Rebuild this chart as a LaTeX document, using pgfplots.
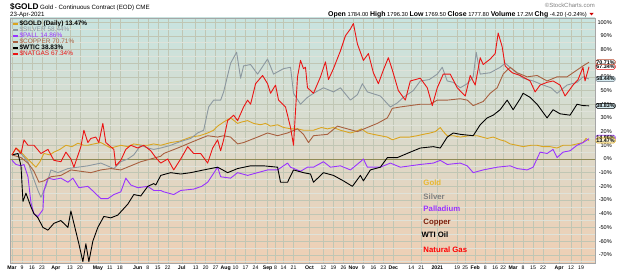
\documentclass[border=0pt]{standalone}
\usepackage{pgfplots}
\pgfplotsset{compat=1.18}
\usepackage{fontspec}
\setmainfont{Liberation Sans}
\definecolor{cgold}{RGB}{218,165,32}
\definecolor{csilver}{RGB}{140,152,160}
\definecolor{cpall}{RGB}{153,51,255}
\definecolor{ccopper}{RGB}{168,96,64}
\definecolor{cgas}{RGB}{235,20,20}
\definecolor{lgold}{RGB}{232,184,48}
\definecolor{lcopper}{RGB}{123,30,10}
\definecolor{bgtop}{RGB}{200,228,224}
\definecolor{bgmid}{RGB}{245,234,176}
\definecolor{bgbot}{RGB}{239,207,180}
\definecolor{gridc}{RGB}{192,198,180}
\definecolor{tagblue}{RGB}{214,236,242}
\definecolor{tagyel}{RGB}{252,246,210}
\begin{document}
\begin{tikzpicture}[x=1bp,y=1bp]
\begin{axis}[
  scale only axis,
  width=585bp, height=245bp,
  xmin=-1, xmax=292, ymin=-76, ymax=103,
  axis background/.style={top color=bgtop, middle color=bgmid, bottom color=bgbot},
  axis line style={draw=gray!70, line width=0.5pt},
  xtick={0,5,10,15,22,29,34,43,49,54,63,68,73,78,85,92,97,102,107,112,117,122,128,132,136,141,149,156,161,166,171,176,181,186,191,200,205,213,223,227,232,237,242,246,251,256,261,266,274,280,285},
  xticklabels={\textbf{Mar},9,16,23,\textbf{Apr},13,20,\textbf{May},11,18,\textbf{Jun},8,15,22,\textbf{Jul},13,20,27,\textbf{Aug},10,17,24,\textbf{Sep},8,14,21,\textbf{Oct},12,19,26,\textbf{Nov},9,16,23,\textbf{Dec},14,21,\textbf{2021},19,25,\textbf{Feb},8,16,22,\textbf{Mar},8,15,22,\textbf{Apr},12,19},
  xticklabel style={font=\fontsize{5.2}{6}\selectfont, inner sep=0pt, yshift=-2.5bp},
  ytick={-70,-60,...,100},
  minor ytick={-75,-65,...,95},
  yticklabel pos=right,
  yticklabel={\pgfmathprintnumber{\tick}\%},
  yticklabel style={font=\fontsize{5.6}{6}\selectfont, anchor=east, inner sep=0pt, xshift=17bp},
  /pgf/number format/assume math mode=true,
  major tick length=0pt, minor tick length=0pt,
  xmajorgrids, ymajorgrids, yminorgrids,
  major grid style={draw=gridc, line width=0.4pt},
  minor grid style={draw=gridc!50, line width=0.3pt},
  clip mode=individual,
  legend style={at={(0.003,0.993)}, anchor=north west, draw=none, fill=none, inner sep=0.5bp,
    font=\fontsize{6.5}{6.5}\selectfont, nodes={inner sep=0.3bp}, row sep=-0.8bp},
  legend cell align=left,
  legend image code/.code={\draw[#1, line width=1.8bp] (0bp,0bp) -- (5bp,0bp);},
  every axis plot/.append style={line width=0.9pt, line join=round},
]
\path ([shift={(-10bp,-13bp)}]rel axis cs:0,0) rectangle ([shift={(614bp,263bp)}]rel axis cs:0,0);
\draw[draw=gray!60!olive, line width=0.7pt] (axis cs:-1,0) -- (axis cs:292,0);
% Gold
\addplot[cgold] coordinates {(0,3)(2,8)(4,6)(7,1)(10,-3)(12,-6)(14,-2)(16,4)(19,3)(21,5)(24,7)(27,10)(30,9)(33,11.5)(36,10)(38,10)(41,11)(44.5,12)(47,10)(49.5,8)(52,9)(54.5,10)(58,9)(61,11)(65,10)(68,10)(71,11)(74.5,10)(79.5,12)(84,13)(89.5,16)(94,17)(98,19)(101,21)(103,24)(106,27)(109.5,30)(113,26)(115,27)(118,28)(121,26)(124.5,25)(127,26)(129.5,24)(133,25)(136,23)(140,22)(143,22)(146,21)(149.5,21)(151,21)(155,23)(158,22)(161,23)(164.5,21)(169.5,19)(172,20)(175,22)(178,19)(181,18)(184.5,17)(188,16)(190.5,14)(194.5,16)(199,16)(203,17)(206,18)(209.5,19)(212,20)(214.5,23)(216,20)(218,17)(221,17)(224.5,16)(229,17)(233,17)(238,15)(241,16)(244.5,14)(247,13)(249.5,11)(253,10)(256,9)(260,10)(263,10)(266,9)(269.5,9)(273,8)(276,10)(280,10)(283,11)(286,12)(287.5,15)(289,13.47)};
\addlegendentry{\textbf{\$GOLD (Daily) 13.47\%}}
% Silver
\addplot[csilver] coordinates {(0,3)(4.5,4)(8,-2)(10.5,-13)(13,-23)(14.5,-28)(17,-20)(19.5,-8)(23,-10)(28,-7)(33,-6)(38,-5)(44.5,-3)(51,-7)(54.5,-2)(58,0)(61,3)(64.5,10)(68,8)(71,7)(74.5,8)(79.5,10)(83,12)(85,13)(89.5,15)(93,19)(96,21)(98.5,38)(101,43)(104.5,43)(106,49)(109.5,70)(112.5,78)(114.5,59)(116,68)(119.5,69)(123,62)(128,73)(131,62)(136,66)(139.5,67)(141,48)(144.5,40)(148,45)(151,48)(156,52)(161,49)(164.5,52)(169.5,43)(173,47)(175.5,55)(178,49)(184.5,46)(189.5,38)(193,41)(196,45)(201,50)(204.5,57)(209,58)(213,62)(215.5,67)(218,57)(221,56)(224.5,52)(228,55)(231,60)(232.5,78)(234.5,62)(239.5,63)(244.5,67)(247,70)(251,65)(256,59)(261,57)(266,54)(270,52)(273,48)(278,54)(283,56)(286,60)(289,58.44)};
\addlegendentry{\textcolor{csilver}{\$SILVER 58.44\%}}
% Palladium
\addplot[cpall] coordinates {(0,-1)(2,-4)(4.5,-5)(6,-4)(8,-13)(9.5,-32)(11,-40)(13,-42)(15.5,-37)(16,-23)(18,-14)(21,-15)(24.5,-14)(28,-17)(30.5,-14)(33.5,-21)(38,-20)(41,-24)(44.5,-29)(48,-29)(51,-26)(54.5,-24)(57,-14)(59.5,-19)(63,-21)(68,-20)(71,-23)(74.5,-23)(76,-24)(81,-26)(84.5,-23)(91,-22)(95,-20)(98,-17)(103,-6)(104.5,-13)(109.5,-14)(113,-10)(118,-12)(123,-10)(128,-8)(133,-8)(138,-3)(139.5,-6)(144.5,-9)(148,-6)(151,-6)(156,-2)(159.5,-6)(164.5,-5)(169.5,-8)(174.5,-2)(176,0)(178,-6)(184.5,-6)(189.5,-3)(194.5,-6)(199.5,-5)(204.5,-4)(211,-3)(214.5,-1)(218,-4)(224.5,-3)(228,-5)(231,-10)(236,-8)(243,-6)(249.5,-5)(253,-7)(258,-8)(261,-6)(264.5,5)(268,4)(271,7)(273,1)(276,5)(279.5,6)(283,10)(286,12)(289,14.86)};
\addlegendentry{\textcolor{cpall}{\$PALL 14.86\%}}
% Copper
\addplot[ccopper] coordinates {(0,3)(4.5,1)(8,-3)(11,-9)(13.5,-17)(16,-16)(19.5,-13)(24.5,-12)(29.5,-8)(34.5,-9)(39.5,-10)(44.5,-8)(49.5,-7)(54.5,-8)(59.5,-5)(64.5,-2)(69.5,0)(74.5,2)(76,4)(83,8)(89.5,12)(94.5,15)(98,17)(103,16)(106,17)(109.5,16)(113,11)(116,12)(119.5,14)(123,16)(128,19)(133,17)(138,19)(143,22)(146,18)(148.5,12)(149.5,14)(151,17)(158,18)(163,24)(168,22)(173,20)(178,23)(183,26)(188,30)(190.5,37)(194.5,38)(199.5,39)(204.5,40)(209.5,40)(213,43)(218,43)(224.5,44)(228,43)(231,39)(236,42)(239.5,48)(243,52)(246,62)(249.5,67)(253,63)(258,60)(263,61)(268,57)(273,60)(278,60)(283,65)(286,68)(289,70.71)};
\addlegendentry{\textcolor{ccopper}{\$COPPER 70.71\%}}
% WTI
\addplot[black] coordinates {(0,3)(3,4)(4.5,-5)(5.5,-31)(7,-25)(9.5,-35)(11,-40)(13,-43)(15.5,-50)(18,-52)(21,-47)(24.5,-45)(28,-50)(29.5,-38)(31,-47)(33.5,-62)(35.5,-75)(37,-62)(38.5,-75)(40.5,-60)(43,-50)(46,-42)(49.5,-43)(53,-41)(58,-33)(61,-26)(64.5,-27)(68,-20)(71,-18)(72,-19)(74.5,-12)(79.5,-10)(84.5,-11)(89.5,-10)(96,-8)(103,-6)(108,-10)(113,-7)(119.5,-5)(126,-5)(133,-6)(134.5,-17)(138,-17)(141,-8)(146,-10)(149.5,-11)(151,-17)(156,-10)(161,-12)(166,-16)(170.5,-20)(174.5,-12)(176,-16)(179.5,-8)(184.5,-6)(188,1)(193,1)(199.5,5)(204.5,8)(211,9)(214.5,8)(218,16)(221,19)(224.5,18)(231,17)(234.5,25)(238,30)(241,32)(244.5,36)(248,43)(251,36)(254.5,44)(256,48)(259.5,45)(263,40)(266,34)(268,30)(271,36)(274.5,33)(279.5,32)(283,40)(286,39)(289,38.83)};
\addlegendentry{\textbf{\$WTIC 38.83\%}}
% Natural gas
\addplot[cgas] coordinates {(0,3)(2,8)(4.5,4)(6,14)(8,10)(11,10)(14.5,4)(18,7)(21,-1)(24.5,-2)(27,5)(29.5,0)(31,-6)(34.5,9)(36,21)(38,12)(39.5,15)(42,16)(43.5,12)(45.5,26)(47,12)(51,7)(52,-5)(54.5,-1)(57,7)(59.5,10)(63,8)(66,10)(69.5,6)(71,3)(72,1)(74.5,-3)(78,0)(81,-8)(84.5,0)(88,9)(91,4)(94.5,4)(98,-3)(100.5,8)(103,14)(104.5,6)(106,14)(108,28)(111,32)(113,28)(116,38)(118,43)(119.5,40)(122,55)(125.5,61)(128,55)(129.5,48)(132,54)(133.5,43)(137,38)(139.5,23)(141,10)(143,60)(144.5,72)(146,66)(147,67)(148,52)(151,48)(154.5,60)(157,71)(158.5,58)(161,66)(164.5,79)(167,90)(169.5,95)(171,99)(173,84)(176,72)(178.5,77)(181,63)(183.5,55)(186,65)(188.5,74)(190.5,65)(193.5,50)(197,43)(199.5,57)(204.5,59)(208,52)(210.5,39)(213,52)(216,62)(219.5,62)(223,52)(227,46)(229.5,61)(232,54)(234.5,74)(236,69)(239.5,73)(242,77)(243.5,92)(245.5,82)(247,68)(250.5,63)(254.5,61)(259.5,57)(262,49)(264.5,54)(268,56)(271,57)(274.5,54)(277,46)(281,54)(283.5,58)(286,67)(287,57)(289,67.34)};
\addlegendentry{\textcolor{cgas}{\$NATGAS 67.34\%}}
% series name annotations
\begin{scope}[every node/.style={anchor=base west, inner sep=0pt, font=\fontsize{7.8}{8}\selectfont\bfseries}]
\node[text=lgold] at (axis cs:206,-19.5) {Gold};
\node[text=gray] at (axis cs:206,-29.5) {Silver};
\node[text=cpall] at (axis cs:206,-38.5) {Palladium};
\node[text=lcopper] at (axis cs:206,-48) {Copper};
\node[text=black] at (axis cs:205,-57.5) {WTI Oil};
\node[text=red] at (axis cs:206,-68.5) {Natural Gas};
\end{scope}
% end-value tags
\begin{scope}[every node/.style={anchor=west, inner sep=0.6bp, rounded corners=1.5bp, line width=0.6pt, font=\fontsize{5.4}{6}\selectfont\bfseries, xshift=0.5bp}]
\node[draw=cpall, fill=tagyel] at (axis cs:292,15.5) {14.86\%};
\node[draw=cgold, fill=tagyel] at (axis cs:292,13.47) {13.47\%};
\node[draw=black, fill=tagblue] at (axis cs:292,38.83) {38.83\%};
\node[draw=csilver, fill=tagblue] at (axis cs:292,58.44) {58.44\%};
\node[draw=cgas, fill=white] at (axis cs:292,67.34) {67.34\%};
\node[draw=ccopper!80!red, fill=white] at (axis cs:292,70.71) {70.71\%};
\end{scope}
% header
\node[anchor=base west, inner sep=0pt, font=\fontsize{8.3}{9}\selectfont\bfseries] at ([shift={(0bp,8.5bp)}]rel axis cs:0,1) {\$GOLD};
\node[anchor=base west, inner sep=0pt, font=\fontsize{6.2}{6.3}\selectfont] at ([shift={(30bp,8.5bp)}]rel axis cs:0,1) {Gold - Continuous Contract (EOD) CME};
\node[anchor=base west, inner sep=0pt, font=\fontsize{6.2}{6.3}\selectfont] at ([shift={(0bp,1.5bp)}]rel axis cs:0,1) {23-Apr-2021};
\node[anchor=base east, inner sep=0pt, font=\fontsize{5.8}{6}\selectfont] at ([shift={(-8bp,1.5bp)}]rel axis cs:1,1) {{\fontsize{7}{7}\selectfont\bfseries Open} 1784.00 {\fontsize{7}{7}\selectfont\bfseries High} 1796.30 {\fontsize{7}{7}\selectfont\bfseries Low} 1769.50 {\fontsize{7}{7}\selectfont\bfseries Close} 1777.80 {\fontsize{7}{7}\selectfont\bfseries Volume} 17.2M {\fontsize{7}{7}\selectfont\bfseries Chg} -4.20 (-0.24\%)};
\fill[red!80!black] ([shift={(-5.5bp,5bp)}]rel axis cs:1,1) -- ([shift={(-1.5bp,5bp)}]rel axis cs:1,1) -- ([shift={(-3.5bp,2.5bp)}]rel axis cs:1,1) -- cycle;
\node[anchor=base east, inner sep=0pt, font=\fontsize{6}{6}\selectfont, text=gray] at ([shift={(0bp,10.5bp)}]rel axis cs:1,1) {\textcopyright StockCharts.com};
\end{axis}
\end{tikzpicture}
\end{document}
